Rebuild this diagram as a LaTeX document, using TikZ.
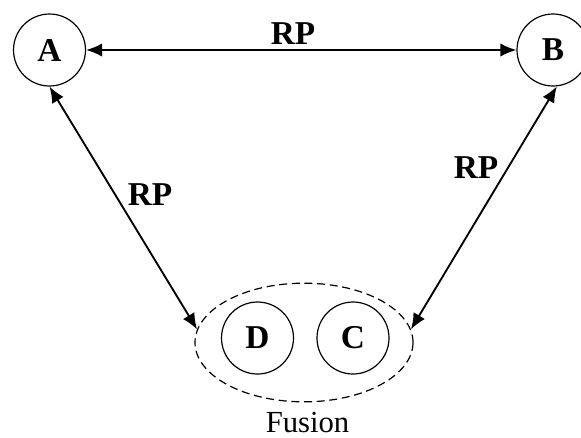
\documentclass[tikz,border=0pt]{standalone}
\usepackage{fontspec}
\setmainfont{Liberation Serif}
\usetikzlibrary{arrows.meta,shapes.geometric}

\tikzset{
  peer/.style={draw,circle,line width=0.9pt,minimum size=54pt,inner sep=0pt,font=\fontsize{25}{29}\selectfont\bfseries},
  group/.style={draw,ellipse,dashed,dash pattern=on 6pt off 3.5pt,line width=0.9pt,minimum width=163.5pt,minimum height=89pt,inner sep=0pt},
  rp/.style={font=\fontsize{25}{29}\selectfont\bfseries,inner sep=0pt},
  link/.style={{Latex[length=12pt,width=10pt]}-{Latex[length=12pt,width=10pt]},line width=1.4pt}
}

\begin{document}
\begin{tikzpicture}[x=0.75pt,y=0.75pt,yscale=-1,xscale=1]
\useasboundingbox (0,0) rectangle (581,437);

%Shape: Ellipse [fusion]
\node[group] (fusion) at (304,342.5) {};
%Shape: Circles [peers]
\node[peer] (A) at (49.5,50) {A};
\node[peer] (B) at (553,50) {B};
\node[peer] (D) at (257.5,338) {D};
\node[peer] (C) at (353,338) {C};

%Straight Lines [links]
\draw[link] (A) -- (B);
\draw[link] (A.south) -- (fusion.173);
\draw[link] (B.-84) -- (fusion.7);

%Text [labels]
\node[rp] (rpAB) at (293,34) {RP};
\node[rp] (rpAD) at (150,195) {RP};
\node[rp] (rpBC) at (476,168) {RP};
\node[font=\fontsize{23}{27}\selectfont,inner sep=0pt,anchor=base] (fusionlabel) at (307.5,432) {Fusion};

\end{tikzpicture}
\end{document}
